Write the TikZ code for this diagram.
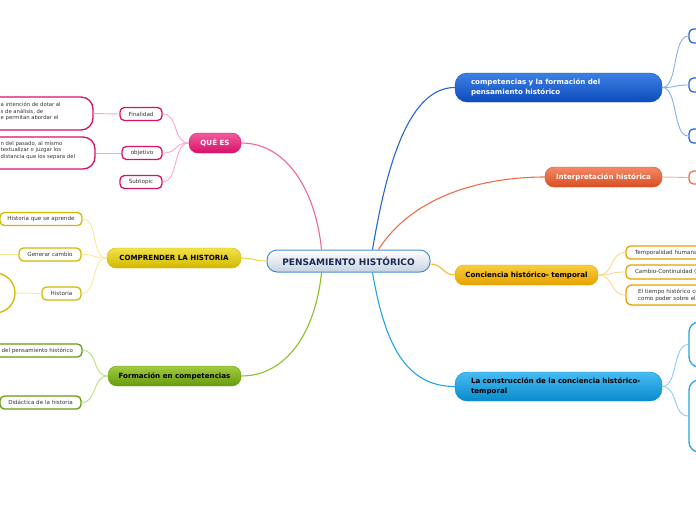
\documentclass[tikz,border=0pt]{standalone}
\usepackage{fontspec}
\setmainfont{DejaVu Sans}
\definecolor{pk}{HTML}{D8106A}\definecolor{pkL}{HTML}{F25A9E}\definecolor{pkLine}{HTML}{F0649E}\definecolor{pkSub}{HTML}{F8AACB}
\definecolor{yl}{HTML}{D2B800}\definecolor{ylL}{HTML}{F2E24A}\definecolor{ylLine}{HTML}{EED850}\definecolor{ylSub}{HTML}{F6EA9A}
\definecolor{gn}{HTML}{679A0E}\definecolor{gnL}{HTML}{A0CC40}\definecolor{gnLine}{HTML}{8CBE2A}\definecolor{gnSub}{HTML}{BCDC80}
\definecolor{bl}{HTML}{0C4CBC}\definecolor{blL}{HTML}{3E80E6}\definecolor{blLine}{HTML}{2566D6}\definecolor{blSub}{HTML}{86AEEE}
\definecolor{or}{HTML}{D84E22}\definecolor{orL}{HTML}{F48A66}\definecolor{orLine}{HTML}{F06E46}\definecolor{orSub}{HTML}{F6AC92}
\definecolor{am}{HTML}{E6A000}\definecolor{amL}{HTML}{FACE3A}\definecolor{amLine}{HTML}{F4BC2A}\definecolor{amSub}{HTML}{FAD98A}
\definecolor{cy}{HTML}{0A8ACC}\definecolor{cyL}{HTML}{48BCF2}\definecolor{cyLine}{HTML}{22A4E4}\definecolor{cySub}{HTML}{86CEF4}
\definecolor{ctr}{HTML}{4A8ED0}\definecolor{ctrB}{HTML}{C6D3E1}\definecolor{ctrT}{HTML}{1B2A55}
\definecolor{subtxt}{HTML}{333333}
\begin{document}
\begin{tikzpicture}[x=1pt,y=-1pt,
  topic/.style={rounded corners=9pt, inner sep=0pt, minimum height=20pt,
    font=\bfseries\fontsize{7.1}{9.3}\selectfont},
  sub/.style={draw, fill=white, line width=1.3pt, rounded corners=4.5pt, inner sep=0pt,
    minimum height=13pt, font=\fontsize{5.6}{7}\selectfont, text=subtxt},
  subtext/.style={inner sep=0pt, font=\fontsize{5.3}{6.8}\selectfont, text=subtxt, align=left},
  mainline/.style={line width=1.1pt},
  subline/.style={line width=0.9pt}
]
\useasboundingbox (0,0) rectangle (696,520);

% central topic
\node[rounded corners=10pt, draw=ctr, line width=1pt, top color=white, bottom color=ctrB,
  minimum width=163pt, minimum height=22pt, inner sep=0pt, text=ctrT,
  font=\bfseries\fontsize{9}{10}\selectfont] (ph) at (348.5,261) {PENSAMIENTO HISTÓRICO};

% main topics
\node[topic, top color=pkL, bottom color=pk, draw=pk, text=white, minimum width=52pt] (que) at (215,143) {QUÉ ES};
\node[topic, top color=ylL, bottom color=yl, draw=yl, text=black, minimum width=134pt] (comp) at (174,258) {COMPRENDER LA HISTORIA};
\node[topic, top color=gnL, bottom color=gn, draw=gn, text=black, minimum width=133pt] (form) at (174.5,376) {Formación en competencias};
\node[topic, rounded corners=12pt, top color=blL, bottom color=bl, draw=bl, text=white, minimum height=29pt,
  text width=175pt, inner xsep=16pt, align=left] (cf) at (558.5,87.5) {competencias y la formación del\\pensamiento histórico};
\node[topic, top color=orL, bottom color=or, draw=or, text=white, minimum width=117pt] (interp) at (603.5,177) {Interpretación histórica};
\node[topic, top color=amL, bottom color=am, draw=am, text=black, minimum width=143pt] (conc) at (526.5,275) {Conciencia histórico- temporal};
\node[topic, rounded corners=12pt, top color=cyL, bottom color=cy, draw=cy, text=black, minimum height=29pt,
  text width=175pt, inner xsep=16pt, align=left] (constr) at (558.5,386.5) {La construcción de la conciencia histórico-\\temporal};

% main connectors
\draw[mainline, pkLine] ([xshift=-27pt]ph.north) .. controls +(-6,-60) and +(45,0) .. (que.east);
\draw[mainline, ylLine] (ph.west) .. controls +(-12,0) and +(12,0) .. (comp.east);
\draw[mainline, gnLine] ([xshift=-27pt]ph.south) .. controls +(-6,60) and +(45,0) .. (form.east);
\draw[mainline, blLine] ([xshift=24pt]ph.north) .. controls +(12,-70) and +(-50,0) .. (cf.west);
\draw[mainline, orLine] ([xshift=30pt]ph.north) .. controls +(35,-55) and +(-60,0) .. (interp.west);
\draw[mainline, amLine] ([yshift=-3pt]ph.east) .. controls +(12,0) and +(-12,0) .. (conc.west);
\draw[mainline, cyLine] ([xshift=24pt]ph.south) .. controls +(12,70) and +(-50,0) .. (constr.west);

% QUÉ ES children
\node[sub, draw=pk, minimum width=42pt] (fin) at (141,114) {Finalidad};
\node[sub, draw=pk, minimum width=40pt] (obj) at (142,153) {objetivo};
\node[sub, draw=pk, minimum width=42pt] (st) at (141,182) {Subtopic};
\node[sub, draw=pk, rounded corners=12pt, minimum width=153pt, minimum height=33pt] (b1) at (16.5,113.5) {};
\node[subtext, anchor=west] (b1t) at (0.5,111.5) {a intención de dotar al\\s de análisis, de\\e permitan abordar el};
\node[sub, draw=pk, rounded corners=12pt, minimum width=155pt, minimum height=32pt] (b2) at (17.5,153) {};
\node[subtext, anchor=west] (b2t) at (0.5,150.5) {n del pasado, al mismo\\textualizar o juzgar los\\distancia que los separa del};
\foreach \c in {fin,obj,st}
  \draw[subline, pkSub] (que.west) .. controls +(-16,0) and +(16,0) .. (\c.east);
\draw[subline, pkSub] (b1.east) -- (fin.west);
\draw[subline, pkSub] (b2.east) -- (obj.west);

% COMPRENDER children
\node[sub, draw=yl, minimum width=82pt] (hq) at (41,219) {Historia que se aprende};
\node[sub, draw=yl, minimum width=62pt] (gc) at (50,254.5) {Generar cambio};
\node[sub, draw=yl, minimum width=39pt] (hist) at (61.5,293.5) {Historia};
\node[circle, draw=yl, line width=1.3pt, fill=white, minimum size=40pt, inner sep=0pt] (hc) at (-5,293) {};
\coordinate (gcl) at (-4,254.5);
\foreach \c in {hq,gc,hist}
  \draw[subline, ylSub] (comp.west) .. controls +(-16,0) and +(16,0) .. (\c.east);
\draw[subline, ylSub] (gc.west) -- (gcl);
\draw[subline, ylSub] (hc.east) -- (hist.west);

% Formación children
\node[sub, draw=gn, minimum width=122pt] (dph) at (21,350.5) {};
\node[subtext, anchor=west, font=\fontsize{5.5}{7}\selectfont] (dpht) at (1.5,350.5) {del pensamiento histórico};
\node[sub, draw=gn, minimum width=81pt] (did) at (40.5,402.5) {Didáctica de la historia};
\foreach \c in {dph,did}
  \draw[subline, gnSub] (form.west) .. controls +(-16,0) and +(16,0) .. (\c.east);

% competencias children
\node[sub, draw=blLine, minimum width=56pt, minimum height=14pt] (k1) at (717,36) {};
\node[sub, draw=blLine, minimum width=56pt, minimum height=14pt] (k2) at (717,85) {};
\node[sub, draw=blLine, minimum width=56pt, minimum height=14pt] (k3) at (717,136) {};
\foreach \c in {k1,k2,k3}
  \draw[subline, blSub] (cf.east) .. controls +(16,0) and +(-16,0) .. (\c.west);

% Interpretación child
\node[sub, draw=orLine, minimum width=56pt, minimum height=13pt] (i1) at (717,177.5) {};
\draw[subline, orSub] (interp.east) -- (i1.west);

% Conciencia children
\node[sub, draw=am, minimum width=134pt, text width=116pt, inner xsep=9pt, align=left] (t1) at (693,252.5) {Temporalidad humana};
\node[sub, draw=am, minimum width=134pt, minimum height=14pt, text width=116pt, inner xsep=9pt, align=left] (t2) at (693,272) {Cambio-Continuidad (};
\node[sub, draw=am, minimum width=134pt, minimum height=20pt, text width=110pt, inner xsep=12pt, align=left, rounded corners=6pt] (t3) at (693,295) {El tiempo histórico co\\como poder sobre el};
\foreach \c in {t1,t2,t3}
  \draw[subline, amSub] (conc.east) .. controls +(16,0) and +(-16,0) .. (\c.west);

% construcción children
\node[sub, draw=cyLine, rounded corners=10pt, minimum width=71pt, minimum height=45pt] (m1) at (724.5,344.5) {};
\node[sub, draw=cyLine, rounded corners=10pt, minimum width=71pt, minimum height=72pt] (m2) at (724.5,416) {};
\foreach \c in {m1,m2}
  \draw[subline, cySub] (constr.east) .. controls +(16,0) and +(-16,0) .. (\c.west);
\end{tikzpicture}
\end{document}
